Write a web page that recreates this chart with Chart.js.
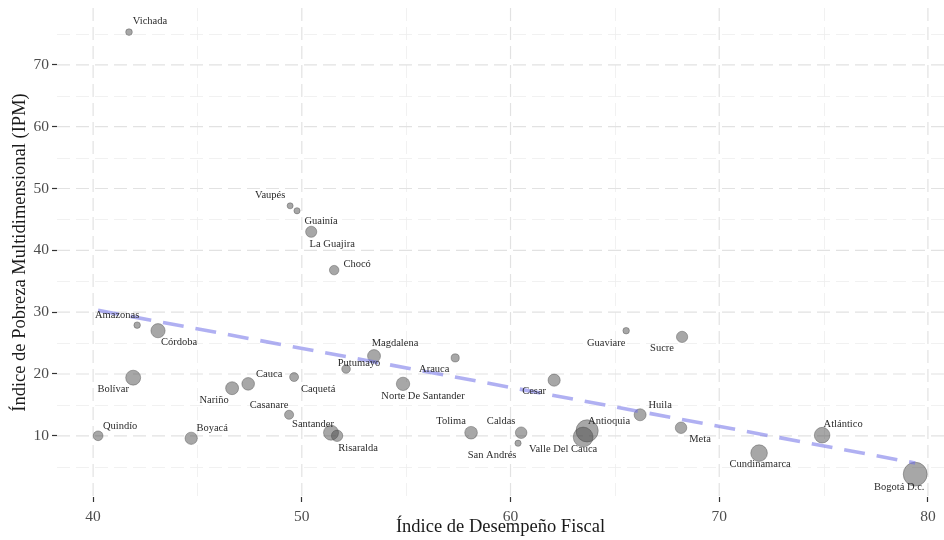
<!DOCTYPE html>
<html>
<head>
<meta charset="utf-8">
<script src="https://cdn.jsdelivr.net/npm/chart.js@4.4.1/dist/chart.umd.min.js"></script>
<style>
  html, body { margin: 0; padding: 0; background: #ffffff; overflow: hidden; }
  #wrap { width: 944px; height: 540px; }
</style>
</head>
<body>
<div id="wrap"><canvas id="grafico" width="944" height="540"></canvas></div>
<script>
// Departamentos de Colombia: desempeño fiscal vs. pobreza multidimensional
const departamentos = [
  'Vichada', 'Vaupés', 'Guainía', 'La Guajira', 'Chocó', 'Amazonas', 'Córdoba',
  'Bolívar', 'Quindío', 'Boyacá', 'Nariño', 'Cauca', 'Caquetá', 'Casanare',
  'Santander', 'Risaralda', 'Putumayo', 'Magdalena', 'Arauca', 'Norte De Santander',
  'Cesar', 'Tolima', 'Caldas', 'San Andrés', 'Antioquia', 'Valle Del Cauca',
  'Guaviare', 'Sucre', 'Huila', 'Meta', 'Cundinamarca', 'Atlántico', 'Bogotá D.c.'
];
const desempenoFiscal = [
  41.72, 49.44, 49.77, 50.45, 51.55, 42.11, 43.11,
  41.92, 40.24, 44.70, 46.66, 47.43, 49.63, 49.39,
  51.40, 51.69, 52.12, 53.46, 57.35, 54.85,
  62.09, 58.11, 60.51, 60.36, 63.67, 63.48,
  65.54, 68.22, 66.21, 68.17, 71.91, 74.93, 79.39
];
const ipm = [
  75.3, 47.2, 46.4, 43.0, 36.8, 27.9, 27.0,
  19.4, 10.0, 9.6, 17.7, 18.4, 19.5, 13.4,
  10.5, 10.0, 20.8, 22.9, 22.6, 18.4,
  19.0, 10.5, 10.5, 8.8, 10.8, 9.8,
  27.0, 26.0, 13.4, 11.3, 7.2, 10.1, 3.8
];
// población (millones de habitantes), define el tamaño de cada burbuja
const poblacion = [
  0.08, 0.04, 0.05, 0.83, 0.46, 0.07, 1.78,
  2.07, 0.51, 1.14, 1.34, 1.25, 0.36, 0.39,
  2.10, 0.89, 0.31, 1.34, 0.24, 1.49,
  1.10, 1.25, 0.93, 0.05, 5.97, 4.48,
  0.07, 0.86, 1.06, 0.92, 2.79, 2.34, 7.18
];
// recta de tendencia (ajuste lineal), extremos
const tendenciaX = [40.24, 79.39];
const tendenciaY = [30.3, 5.6];

const xTicks = [40, 50, 60, 70, 80];
const xMinor = [45, 55, 65, 75];
const yTicks = [10, 20, 30, 40, 50, 60, 70];
const yMinor = [5, 15, 25, 35, 45, 55, 65, 75];

// desplazamiento de cada etiqueta respecto a su punto (px)
const posEtiqueta = {
  'Vichada': [21, -11], 'Vaupés': [-20, -11], 'Guainía': [24, 10],
  'La Guajira': [21, 12], 'Chocó': [23, -6], 'Amazonas': [-20, -10],
  'Córdoba': [21, 12], 'Bolívar': [-20, 12], 'Quindío': [22, -10],
  'Boyacá': [21, -10], 'Nariño': [-18, 12], 'Cauca': [21, -10],
  'Caquetá': [24, 12], 'Casanare': [-20, -10], 'Santander': [-18, -8],
  'Risaralda': [21, 12], 'Putumayo': [13, -6], 'Magdalena': [21, -13],
  'Arauca': [-21, 11], 'Norte De Santander': [20, 12], 'Cesar': [-20, 11],
  'Tolima': [-20, -11], 'Caldas': [-20, -11], 'San Andrés': [-26, 12],
  'Antioquia': [22, -10], 'Valle Del Cauca': [-20, 12], 'Guaviare': [-20, 13],
  'Sucre': [-20, 11], 'Huila': [20, -10], 'Meta': [19, 11],
  'Cundinamarca': [1, 11], 'Atlántico': [21, -11], 'Bogotá D.c.': [-16, 13]
};

// escala de área: radio según raíz de la población
function radio(p) { return 2.3 + 3.6 * Math.sqrt(p); }

const SERIF = '"Liberation Serif", "Times New Roman", serif';

const rejilla = {
  id: 'rejilla',
  beforeDatasetsDraw(chart) {
    const { ctx, chartArea: a, scales: { x, y } } = chart;
    ctx.save();
    ctx.beginPath();
    ctx.rect(a.left, a.top, a.right - a.left, a.bottom - a.top);
    ctx.clip();
    const linea = (x1, y1, x2, y2) => { ctx.beginPath(); ctx.moveTo(x1, y1); ctx.lineTo(x2, y2); ctx.stroke(); };
    ctx.setLineDash([13, 6]);
    ctx.strokeStyle = '#eeeeee';
    ctx.lineWidth = 0.8;
    xMinor.forEach(v => { const p = Math.round(x.getPixelForValue(v)) + 0.5; linea(p, a.top, p, a.bottom); });
    yMinor.forEach(v => { const p = Math.round(y.getPixelForValue(v)) + 0.5; linea(a.left, p, a.right, p); });
    ctx.strokeStyle = '#e2e2e2';
    ctx.lineWidth = 1.2;
    xTicks.forEach(v => { const p = x.getPixelForValue(v); linea(p, a.top, p, a.bottom); });
    yTicks.forEach(v => { const p = y.getPixelForValue(v); linea(a.left, p, a.right, p); });
    ctx.restore();
  }
};

const etiquetas = {
  id: 'etiquetas',
  afterDatasetsDraw(chart) {
    const { ctx } = chart;
    const idx = chart.data.datasets.findIndex(d => d.type === 'bubble');
    const meta = chart.getDatasetMeta(idx);
    ctx.save();
    ctx.font = '10.5px ' + SERIF;
    ctx.fillStyle = '#2b2b2b';
    ctx.textAlign = 'center';
    ctx.textBaseline = 'middle';
    meta.data.forEach((el, i) => {
      const nombre = departamentos[i];
      const d = posEtiqueta[nombre] || [0, -10];
      ctx.fillText(nombre, el.x + d[0], el.y + d[1]);
    });
    ctx.restore();
  }
};

new Chart(document.getElementById('grafico'), {
  data: {
    datasets: [
      {
        type: 'line',
        label: 'Tendencia',
        data: tendenciaX.map((v, i) => ({ x: v, y: tendenciaY[i] })),
        borderColor: 'rgba(112,112,232,0.55)',
        borderWidth: 3.6,
        borderDash: [21, 12],
        borderCapStyle: 'butt',
        pointRadius: 0,
        fill: false,
        order: 0
      },
      {
        type: 'bubble',
        label: 'Departamentos',
        data: desempenoFiscal.map((v, i) => ({ x: v, y: ipm[i], r: radio(poblacion[i]) })),
        backgroundColor: 'rgba(72,72,72,0.48)',
        borderColor: 'rgba(70,70,70,0.5)',
        borderWidth: 0.8,
        order: 1
      }
    ]
  },
  options: {
    responsive: false,
    animation: false,
    devicePixelRatio: 1,
    events: [],
    layout: { autoPadding: false, padding: { top: 8, right: 0, bottom: 0, left: 0 } },
    plugins: { legend: { display: false }, tooltip: { enabled: false } },
    scales: {
      x: {
        type: 'linear',
        min: 38.27,
        max: 80.77,
        afterBuildTicks: s => { s.ticks = xTicks.map(v => ({ value: v })); },
        afterFit: s => { s.height = 43; s.paddingLeft = 0; s.paddingRight = 0; },
        grid: { drawOnChartArea: false, drawTicks: true, tickLength: 5, tickColor: '#333333', tickWidth: 1.2 },
        border: { display: false },
        ticks: { color: '#4d4d4d', font: { family: SERIF, size: 15.5 }, padding: 6, maxRotation: 0 },
        title: { display: true, text: 'Índice de Desempeño Fiscal', color: '#1a1a1a',
                 font: { family: SERIF, size: 18.5 }, padding: { top: 0, bottom: 2 } }
      },
      y: {
        type: 'linear',
        min: 0.1,
        max: 79.2,
        afterBuildTicks: s => { s.ticks = yTicks.map(v => ({ value: v })); },
        afterFit: s => { s.width = 57; s.paddingTop = 0; s.paddingBottom = 0; },
        grid: { drawOnChartArea: false, drawTicks: true, tickLength: 5, tickColor: '#333333', tickWidth: 1.2 },
        border: { display: false },
        ticks: { color: '#4d4d4d', font: { family: SERIF, size: 15.5 }, padding: 3 },
        title: { display: true, text: 'Índice de Pobreza Multidimensional (IPM)', color: '#1a1a1a',
                 font: { family: SERIF, size: 18.5 }, padding: { top: 9, bottom: 0 } }
      }
    }
  },
  plugins: [rejilla, etiquetas]
});
</script>
</body>
</html>
